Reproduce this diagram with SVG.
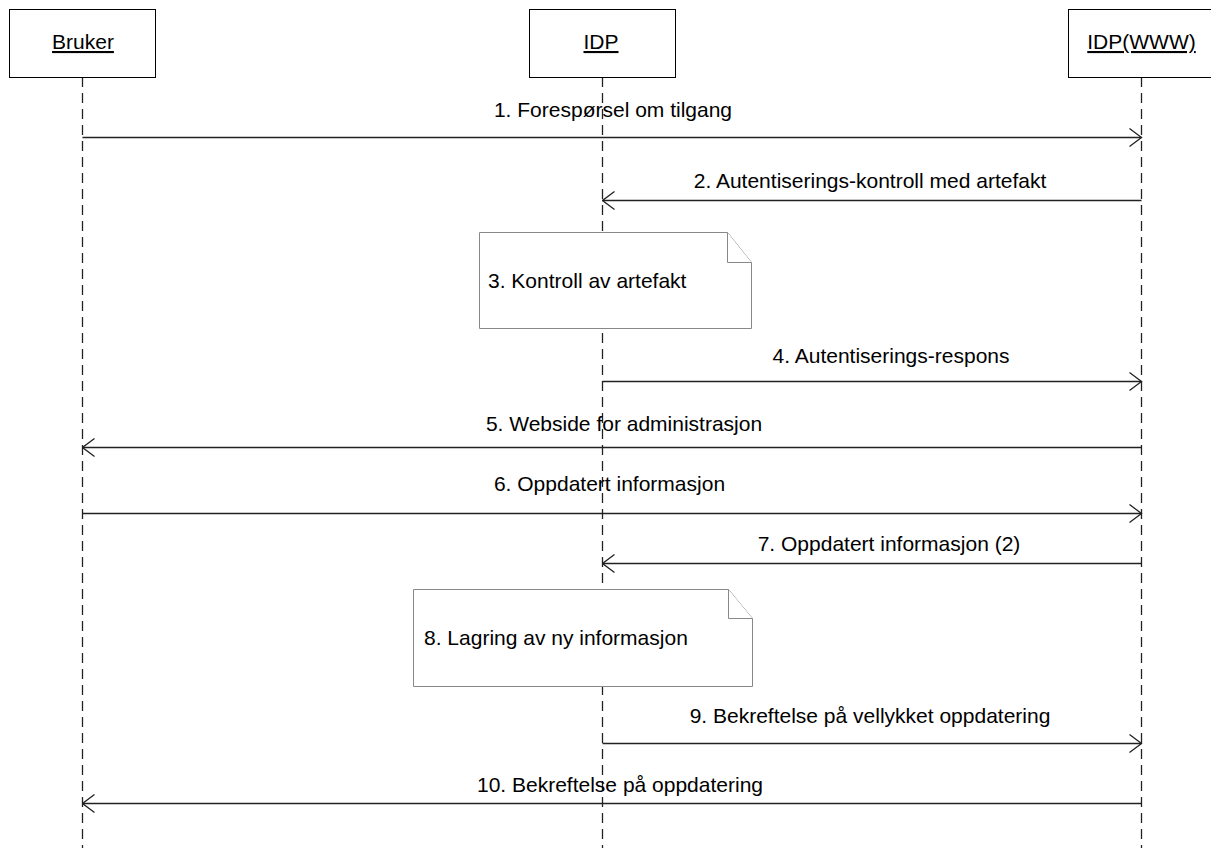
<svg xmlns="http://www.w3.org/2000/svg" width="1211" height="848" viewBox="0 0 1211 848">
  <defs>
    <marker id="open" viewBox="0 0 14 20" refX="13" refY="10" markerWidth="14" markerHeight="20" markerUnits="userSpaceOnUse" orient="auto">
      <path d="M1,1 L13,10 L1,19" fill="none" stroke="#222" stroke-width="1.3"/>
    </marker>
  </defs>
  <style>
    text { font-family: "Liberation Sans", Arial, sans-serif; font-size: 21px; fill: #000; }
    .head { text-decoration: underline; text-anchor: middle; }
    .box { fill: #fff; stroke: #000; stroke-width: 1; }
    .life { stroke: #222; stroke-width: 1.3; stroke-dasharray: 10 6; fill: none; }
    .msg { stroke: #222; stroke-width: 1.3; fill: none; marker-end: url(#open); }
    .lbl { text-anchor: middle; }
    .note { fill: #fff; stroke: #888; stroke-width: 1; }
  </style>
  <rect width="1211" height="848" fill="#fff"/>

  <!-- lifelines -->
  <g id="lifelines">
    <line class="life" x1="82.5" y1="77" x2="82.5" y2="848"/>
    <line class="life" x1="602.5" y1="77" x2="602.5" y2="848"/>
    <line class="life" x1="1141.5" y1="77" x2="1141.5" y2="848"/>
  </g>

  <g id="bruker">
    <rect class="box" x="9.5" y="9.5" width="146" height="68"/>
    <text class="head" x="83" y="49">Bruker</text>
  </g>
  <g id="idp">
    <rect class="box" x="529.5" y="9.5" width="146" height="68"/>
    <text class="head" x="601" y="49">IDP</text>
  </g>
  <g id="idp-www">
    <rect class="box" x="1068.5" y="9.5" width="146" height="68"/>
    <text class="head" x="1141.5" y="49">IDP(WWW)</text>
  </g>

  <!-- notes -->
  <g id="note3">
    <path class="note" d="M479.5,232.5 H727.5 L751.5,262.5 V328.5 H479.5 Z"/>
    <path class="note" d="M727.5,232.5 V262.5 H751.5"/>
    <text x="488" y="288">3. Kontroll av artefakt</text>
  </g>
  <g id="note8">
    <path class="note" d="M413.5,589.5 H728.5 L752.5,618.5 V686.5 H413.5 Z"/>
    <path class="note" d="M728.5,589.5 V618.5 H752.5"/>
    <text x="424" y="645">8. Lagring av ny informasjon</text>
  </g>

  <!-- messages -->
  <g id="connectors">
    <line class="msg" x1="82.5" y1="137.5" x2="1141.5" y2="137.5"/>
    <line class="msg" x1="1141.5" y1="200.5" x2="602.5" y2="200.5"/>
    <line class="msg" x1="602.5" y1="381.5" x2="1141.5" y2="381.5"/>
    <line class="msg" x1="1141.5" y1="447.5" x2="82.5" y2="447.5"/>
    <line class="msg" x1="82.5" y1="513.5" x2="1141.5" y2="513.5"/>
    <line class="msg" x1="1141.5" y1="563.5" x2="602.5" y2="563.5"/>
    <line class="msg" x1="602.5" y1="743.5" x2="1141.5" y2="743.5"/>
    <line class="msg" x1="1141.5" y1="803.5" x2="82.5" y2="803.5"/>
  </g>

  <g id="labels">
    <text class="lbl" x="613" y="117">1. Forespørsel om tilgang</text>
    <text class="lbl" x="870" y="188">2. Autentiserings-kontroll med artefakt</text>
    <text class="lbl" x="891" y="363">4. Autentiserings-respons</text>
    <text class="lbl" x="624" y="431">5. Webside for administrasjon</text>
    <text class="lbl" x="609.5" y="491">6. Oppdatert informasjon</text>
    <text class="lbl" x="889" y="551">7. Oppdatert informasjon (2)</text>
    <text class="lbl" x="870" y="723">9. Bekreftelse på vellykket oppdatering</text>
    <text class="lbl" x="620" y="792">10. Bekreftelse på oppdatering</text>
  </g>
</svg>
